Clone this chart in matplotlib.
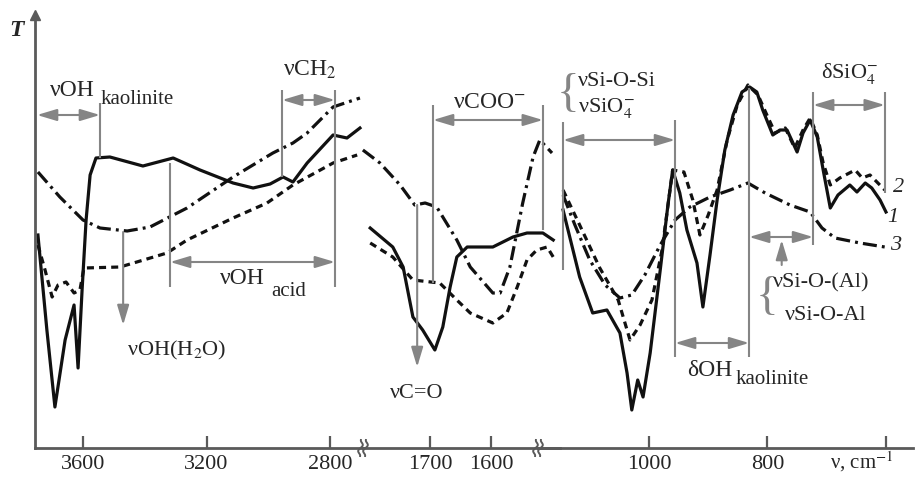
import numpy as np
import matplotlib
matplotlib.use('Agg')
import matplotlib.pyplot as plt
from matplotlib.lines import Line2D

plt.rcParams['font.family'] = ['Liberation Serif', 'DejaVu Serif']
plt.rcParams['mathtext.fontset'] = 'stix'

# ---------------- data (wavenumber, cm-1 ; transmittance, arb. units) ----------------
# region 3750-2700 cm-1
c1_oh_wn = [3746, 3717, 3691, 3658, 3629, 3616, 3603, 3590, 3577, 3558, 3513, 3406, 3308, 3221,
            3114, 3049, 2994, 2952, 2920, 2874, 2790, 2745, 2703]
c1_oh_T = [213, 118, 41, 108, 143, 80, 158, 228, 273, 290, 291, 282, 290, 278,
           265, 260, 264, 271, 266, 285, 313, 310, 320]
c2_oh_wn = [3746, 3723, 3700, 3681, 3655, 3629, 3610, 3597, 3480, 3328, 3263, 3114, 3004, 2920, 2790, 2712]
c2_oh_T = [203, 178, 151, 163, 166, 155, 158, 180, 181, 195, 208, 230, 245, 263, 285, 293]
c3_oh_wn = [3746, 3675, 3600, 3545, 3457, 3383, 3263, 3114, 2985, 2920, 2874, 2790, 2703]
c3_oh_T = [276, 251, 228, 220, 217, 221, 240, 271, 295, 305, 315, 341, 350]

# region 1810-1490 cm-1
c1_co_wn = [1798, 1761, 1744, 1728, 1712, 1692, 1679, 1667, 1656, 1639, 1597, 1564, 1541, 1515, 1498]
c1_co_T = [220, 201, 181, 131, 118, 98, 121, 161, 191, 201, 201, 211, 215, 215, 208]
c2_co_wn = [1798, 1761, 1728, 1684, 1656, 1634, 1597, 1574, 1557, 1541, 1525, 1508, 1495]
c2_co_T = [205, 191, 168, 165, 148, 135, 125, 135, 161, 188, 198, 201, 188]
c3_co_wn = [1810, 1782, 1749, 1725, 1708, 1689, 1656, 1634, 1597, 1585, 1569, 1548, 1531, 1520, 1500]
c3_co_T = [298, 285, 263, 243, 245, 241, 208, 181, 155, 155, 181, 245, 291, 308, 295]

# region 1150-600 cm-1
c1_si_wn = [1145, 1117, 1095, 1071, 1049, 1037, 1029, 1019, 1010, 998, 981, 968, 960, 948, 936, 919,
            909, 897, 885, 872, 858, 843, 830, 818, 808, 791, 779, 767, 750, 740, 728, 716, 706,
            694, 681, 661, 649, 635, 624, 610, 600]
c1_si_T = [238, 171, 135, 138, 115, 75, 38, 68, 51, 95, 178, 243, 278, 255, 218, 185,
           141, 193, 248, 298, 333, 356, 361, 356, 338, 313, 318, 318, 296, 315, 328, 311, 278,
           240, 253, 263, 256, 265, 260, 248, 236]
c2_si_wn = [1145, 1117, 1083, 1052, 1032, 1015, 995, 978, 960, 941, 926, 914, 900, 885, 868, 851,
            833, 816, 801, 787, 770, 754, 740, 728, 716, 706, 694, 678, 652, 640, 627, 602]
c2_si_T = [258, 223, 180, 148, 108, 123, 148, 198, 278, 276, 248, 213, 233, 258, 308, 343,
           363, 353, 333, 315, 320, 300, 318, 330, 313, 285, 263, 270, 278, 270, 273, 258]
c3_si_wn = [1145, 1125, 1100, 1074, 1049, 1029, 1007, 981, 956, 931, 897, 863, 833, 804, 762,
            728, 708, 686, 644, 602]
c3_si_T = [253, 223, 188, 163, 150, 153, 173, 203, 228, 241, 251, 258, 265, 255, 243,
           236, 220, 210, 205, 201]

ticks_oh = [3600, 3200, 2800]
ticks_co = [1700, 1600]
ticks_si = [1000, 800, 600]
ticklabels_si = ['1000', '800', '']

# ---------------- layout ----------------
W, H = 924, 478
fig = plt.figure(figsize=(W / 100, H / 100), dpi=100)
GRAY = '#858585'
AX = '#5a5a5a'
TXT = '#262626'
INK = '#111111'


def fx(px):
    return px / W


def fy(py):
    return 1 - py / H


ax1 = fig.add_axes([fx(35), 30 / H, 328 / W, 433 / H])
ax2 = fig.add_axes([fx(363), 30 / H, 197 / W, 433 / H])
ax3 = fig.add_axes([fx(538), 30 / H, 375 / W, 433 / H])
ax1.set_xlim(3755.5, 2693.1)
ax2.set_xlim(1809.8, 1486.9)
ax3.set_xlim(1187.3, 554.4)

for ax in (ax1, ax2, ax3):
    ax.set_ylim(0, 433)
    ax.set_facecolor('none')
    for s in ('top', 'right', 'left'):
        ax.spines[s].set_visible(False)
    ax.spines['bottom'].set_color(AX)
    ax.spines['bottom'].set_linewidth(2.0)
    ax.set_yticks([])
    ax.tick_params(axis='x', direction='in', length=9, width=1.6, color=AX,
                   labelsize=16, pad=5, labelcolor=TXT)

ax1.spines['left'].set_visible(True)
ax1.spines['left'].set_color(AX)
ax1.spines['left'].set_linewidth(2.0)
ax1.plot([0], [1], marker='^', ms=7, color=AX, transform=ax1.transAxes, clip_on=False)

ax1.set_xticks(ticks_oh)
ax2.set_xticks(ticks_co)
ax3.set_xticks(ticks_si)
ax3.set_xticklabels(ticklabels_si)

styles = [dict(ls='-'), dict(dashes=(2.2, 1.6)), dict(dashes=(4.4, 1.6, 0.9, 1.6))]
segs = [
    (ax1, [(c1_oh_wn, c1_oh_T), (c2_oh_wn, c2_oh_T), (c3_oh_wn, c3_oh_T)]),
    (ax2, [(c1_co_wn, c1_co_T), (c2_co_wn, c2_co_T), (c3_co_wn, c3_co_T)]),
    (ax3, [(c1_si_wn, c1_si_T), (c2_si_wn, c2_si_T), (c3_si_wn, c3_si_T)]),
]
for ax, curves in segs:
    for (x, y), st in zip(curves, styles):
        ax.plot(x, y, color=INK, lw=2.3, clip_on=False, **st)


def vline(ax, x, y0, y1):
    ax.plot([x, x], [y0, y1], color=GRAY, lw=1.5, clip_on=False, solid_capstyle='butt')


def darrow(ax, x0, x1, y, style='<|-|>'):
    ax.annotate('', xy=(x1, y), xytext=(x0, y), annotation_clip=False,
                arrowprops=dict(arrowstyle=style + ',head_length=0.6,head_width=0.18',
                                color=GRAY, lw=1.5, shrinkA=0, shrinkB=0, mutation_scale=20))


def varrow(ax, x, y0, y1):
    ax.annotate('', xy=(x, y1), xytext=(x, y0), annotation_clip=False,
                arrowprops=dict(arrowstyle='-|>,head_length=0.6,head_width=0.18',
                                color=GRAY, lw=1.5, shrinkA=0, shrinkB=0, mutation_scale=20))


# left region annotations
vline(ax1, 3545, 345, 290)
darrow(ax1, 3749, 3545, 333)
vline(ax1, 2955, 358, 271)
vline(ax1, 2784, 358, 161)
darrow(ax1, 2955, 2784, 348)
vline(ax1, 3318, 285, 161)
darrow(ax1, 3318, 2784, 186)
varrow(ax1, 3470, 216, 123)

# middle region
varrow(ax2, 1721, 243, 81)
vline(ax2, 1695, 343, 165)
vline(ax2, 1515, 343, 218)
darrow(ax2, 1695, 1515, 328)

# right region
vline(ax3, 1145, 326, 178)
vline(ax3, 956, 328, 91)
darrow(ax3, 1145, 956, 308)
vline(ax3, 831, 360, 91)
darrow(ax3, 956, 831, 105)
vline(ax3, 723, 356, 203)
darrow(ax3, 831, 723, 211)
varrow(ax3, 776, 183, 208)
vline(ax3, 602, 356, 255)
darrow(ax3, 723, 602, 343)


# texts
def t(x, y, s, size=16, ha='left', **kw):
    kw.setdefault('color', TXT)
    fig.text(fx(x), fy(y), s, ha=ha, va='center', fontsize=size, **kw)


t(16, 30, 'T', 17, ha='center', style='italic', weight='bold')
t(50, 90, 'νOH', 17)
t(101, 99, 'kaolinite', 15)
t(310, 70, 'νCH$_2$', 17, ha='center')
t(177, 350, 'νOH(H$_2$O)', 16, ha='center')
t(220, 279, 'νOH', 17)
t(271, 291, 'acid', 15)
t(417, 393, 'νC=O', 16, ha='center')
t(490, 103, 'νCOO$^{-}$', 17, ha='center')
t(568, 95, '{', 34, ha='center', color=GRAY, weight='light')
t(578, 82, 'νSi-O-Si', 16)
t(578, 108, 'νSiO$_4^{-}$', 16)
t(850, 73, 'δSiO$_4^{-}$', 16, ha='center')
t(687, 370, 'δOH', 17)
t(736, 380, 'kaolinite', 15)
t(767, 298, '{', 34, ha='center', color=GRAY, weight='light')
t(773, 283, 'νSi-O-(Al)', 16)
t(785, 315, 'νSi-O-Al', 16)
t(899, 188, '2', 16, ha='center', style='italic')
t(893, 218, '1', 16, ha='center', style='italic')
t(896, 246, '3', 16, ha='center', style='italic')
t(830, 462, 'ν, cm$^{-1}$', 15)

# axis break marks (two small wavy strokes crossing the axis)
s = np.linspace(-1, 1, 30)
for bx in (363, 538):
    for dx in (-2.5, 2.5):
        xs = bx + dx + 2.0 * s + 1.6 * np.sin(np.pi * s * 1.5)
        ys = 448 - 8 * s
        fig.add_artist(Line2D(fx(xs), fy(ys), color=AX, lw=1.4))

fig.savefig('out.png', dpi=100)
